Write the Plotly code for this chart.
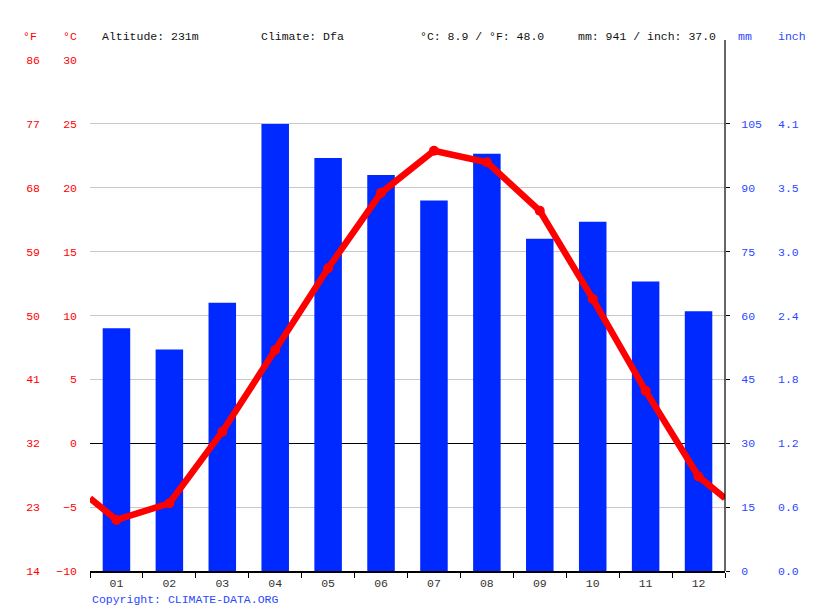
import plotly.graph_objects as go

# monthly climate values
months = ["01", "02", "03", "04", "05", "06", "07", "08", "09", "10", "11", "12"]
precip_mm = [57, 52, 63, 105, 97, 93, 87, 98, 78, 82, 68, 61]
temp_c = [-6.0, -4.7, 0.9, 7.3, 13.7, 19.6, 22.9, 22.0, 18.2, 11.3, 4.1, -2.6]

c_ticks = [-10, -5, 0, 5, 10, 15, 20, 25, 30]
f_ticks = [14, 23, 32, 41, 50, 59, 68, 77, 86]
mm_ticks = [0, 15, 30, 45, 60, 75, 90, 105]
inch_labels = ["0.0", "0.6", "1.2", "1.8", "2.4", "3.0", "3.5", "4.1"]

RED = "#ff0000"
BLUE = "#0029ff"
TXT_BLUE = "#2a48ff"
FONT = "Liberation Mono"
FS = 11.5
OFF = 8  # page body margin
W, H = 815 - OFF, 611 - OFF
L, R, T, B = 90 - OFF, 725 - OFF, 60 - OFF, 571 - OFF

x_pos = list(range(1, 13))
# line runs to the plot edges at the Dec/Jan midpoint
edge = (temp_c[0] + temp_c[-1]) / 2
line_x = [0.5] + x_pos + [12.5]
line_y = [edge] + temp_c + [edge]

fig = go.Figure()
fig.add_trace(go.Bar(x=x_pos, y=precip_mm, yaxis="y", width=0.52,
                     marker=dict(color=BLUE, line=dict(width=0)), hoverinfo="y"))
fig.add_trace(go.Scatter(x=line_x, y=line_y, mode="lines", yaxis="y2",
                         line=dict(color=RED, width=6.5), hoverinfo="skip"))
fig.add_trace(go.Scatter(x=x_pos, y=temp_c, mode="markers", yaxis="y2",
                         marker=dict(color=RED, size=10)))
# invisible traces so the secondary label axes are drawn
fig.add_trace(go.Scatter(x=[1], y=[f_ticks[0]], yaxis="y3", mode="markers",
                         marker=dict(opacity=0), hoverinfo="skip"))
fig.add_trace(go.Scatter(x=[1], y=[0], yaxis="y4", mode="markers",
                         marker=dict(opacity=0), hoverinfo="skip"))

ph = B - T
def py(px):
    return (B - (px - OFF)) / ph

def px_(x):
    return (x - OFF) / W

fig.update_layout(
    width=W, height=H,
    margin=dict(l=0, r=0, t=T, b=H - B),
    paper_bgcolor="white", plot_bgcolor="white",
    showlegend=False,
    font=dict(family=FONT, size=FS, color="#111"),
    xaxis=dict(domain=[L / W, R / W], range=[0.5, 12.5],
               tickvals=x_pos, ticktext=months, ticks="",
               showline=True, linecolor="black", linewidth=1.5,
               showgrid=False, zeroline=False,
               tickfont=dict(color="#333"),
               minor=dict(ticks="outside", tick0=0.5, dtick=1, ticklen=5,
                          tickcolor="black", showgrid=False)),
    yaxis=dict(range=[0, 120], tickvals=mm_ticks, anchor="x",
               side="right", showgrid=True, gridcolor="#c8c8c8", gridwidth=1,
               zeroline=False, ticks="outside", ticklen=4, tickcolor="black",
               tickfont=dict(color=TXT_BLUE), ticklabelstandoff=9,
               minor=dict(tickmode="array", tickvals=[120], ticks="",
                          showgrid=True, gridcolor="#c8c8c8", gridwidth=1)),
    yaxis2=dict(range=[-10, 30], tickvals=c_ticks, overlaying="y", anchor="free",
                position=L / W, side="left", showgrid=False,
                zeroline=True, zerolinecolor="black", zerolinewidth=1.2,
                tickfont=dict(color=RED), ticks="", ticklabelstandoff=13),
    yaxis3=dict(range=[14, 86], tickvals=f_ticks, overlaying="y", anchor="free",
                position=px_(40), side="left", showgrid=False, zeroline=False,
                tickfont=dict(color=RED), ticks=""),
    yaxis4=dict(range=[0, 120], tickvals=mm_ticks, ticktext=inch_labels,
                overlaying="y", anchor="free", position=px_(777), side="right",
                showgrid=False, zeroline=False, ticks="",
                tickfont=dict(color=TXT_BLUE)),
    shapes=[dict(type="line", xref="paper", yref="paper", x0=R / W, x1=R / W,
                 y0=0, y1=py(40), line=dict(color="black", width=1.2))],
)

header = [
    (30, "°F", RED, "center"),
    (70, "°C", RED, "center"),
    (100, "Altitude: 231m", "#111", "left"),
    (259, "Climate: Dfa", "#111", "left"),
    (418, "°C: 8.9 / °F: 48.0", "#111", "left"),
    (576, "mm: 941 / inch: 37.0", "#111", "left"),
    (745, "mm", TXT_BLUE, "center"),
    (792, "inch", TXT_BLUE, "center"),
]
for xp, txt, col, anc in header:
    fig.add_annotation(x=px_(xp), y=py(36), xref="paper", yref="paper", text=txt,
                       showarrow=False, xanchor=anc, yanchor="middle",
                       font=dict(color=col, family=FONT, size=FS))

fig.add_annotation(x=L / W, y=py(599), xref="paper", yref="paper",
                   text="Copyright: CLIMATE-DATA.ORG", showarrow=False,
                   xanchor="left", yanchor="middle",
                   font=dict(color=TXT_BLUE, family=FONT, size=FS))

fig.write_html("out.html")
